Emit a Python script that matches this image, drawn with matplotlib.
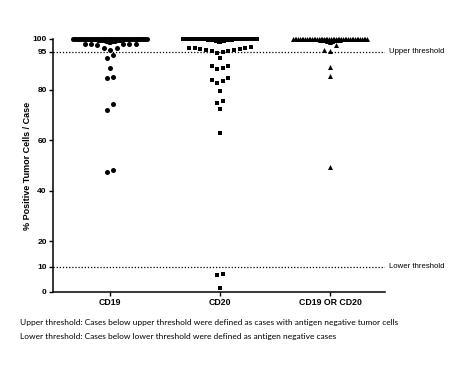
import numpy as np
import matplotlib
matplotlib.use("Agg")
import matplotlib.pyplot as plt

# ---- data ----
categories = ["CD19", "CD20", "CD19 OR CD20"]
# values in the 99-100 band
cd19_top = [100] * 40 + [99.8] * 8 + [99.6] * 6 + [99.4] * 4 + [99.2] * 3 + [99.0] * 2
cd20_top = [100] * 42 + [99.8] * 8 + [99.6] * 6 + [99.4] * 4 + [99.2] * 3 + [99.0] * 2
either_top = [100] * 44 + [99.8] * 8 + [99.6] * 5 + [99.4] * 3 + [99.2] * 2 + [99.0] * 1
# values below 99
cd19_values = [98.0, 98.0, 98.0, 98.0, 98.0, 97.5, 96.6, 96.6,
               95.6, 93.7, 92.6, 88.7, 84.8, 84.5, 74.2, 72.1, 48.1, 47.4]
cd20_values = [97.0, 96.6, 96.3, 96.3, 96.0, 95.9, 95.6, 95.5,
               95.2, 95.2, 95.0, 94.6, 92.4, 89.3, 89.2, 88.4, 88.1, 84.5, 83.8,
               83.4, 82.5, 79.3, 75.5, 74.6, 72.3, 62.7, 7.2, 6.8, 1.6]
either_values = [97.8, 95.5, 95.3, 89.0, 85.5, 49.5]
upper_threshold = 95
lower_threshold = 10
yticks = [0, 10, 20, 40, 60, 80, 95, 100]
markers = ["o", "s", "^"]

W, H = 475, 367
fig = plt.figure(figsize=(W / 100, H / 100), dpi=100)
ax_l, ax_r, ax_t, ax_b = 53, 385, 39, 292
ax = fig.add_axes([ax_l / W, 1 - ax_b / H, (ax_r - ax_l) / W, (ax_b - ax_t) / H])
xlim = (0.48, 3.5)
ylim = (0, 100)
ax.set_xlim(*xlim)
ax.set_ylim(*ylim)
px_per_x = (ax_r - ax_l) / (xlim[1] - xlim[0])


def center_out_slots(n):
    """slot indices from the center outward, alternating sides."""
    if n % 2 == 1:
        slots = [0.0]
        for k in range(1, n):
            slots.append(-float((k + 1) // 2) if k % 2 == 1 else float(k // 2))
    else:
        slots = []
        for k in range(n):
            m = k // 2 + 0.5
            slots.append(-m if k % 2 == 0 else m)
    return np.array(slots)


def row_layout(values, bin_h=2.6, step=6.0):
    """Prism-like layout: bin values into rows, lowest value at center."""
    vals = np.array(values, dtype=float)
    order = np.argsort(-vals)
    offs = np.zeros(len(vals))
    bins, cur, top = [], [], None
    for i in order:
        if top is None or vals[i] < top - bin_h:
            if cur:
                bins.append(cur)
            cur, top = [i], vals[i]
        else:
            cur.append(i)
    if cur:
        bins.append(cur)
    for b in bins:
        b = sorted(b, key=lambda i: vals[i])
        for i, s in zip(b, center_out_slots(len(b))):
            offs[i] = s * step
    return offs


tops = [cd19_top, cd20_top, either_top]
groups = [cd19_values, cd20_values, either_values]
mpx = 5.0
msize = mpx * 0.72  # pt
width_px = 74
for k, (tvals, vals, mk) in enumerate(zip(tops, groups, markers)):
    xc = k + 1
    tvals = np.array(tvals, dtype=float)
    full = tvals[tvals >= 100]
    part = np.sort(tvals[tvals < 100])
    # values at 100 spread over whole column width
    xs_full = xc + np.linspace(-width_px / 2, width_px / 2, len(full)) / px_per_x
    ax.plot(xs_full, full, linestyle="none", marker=mk, color="black",
            markersize=msize, markeredgewidth=0, clip_on=False)
    # values just below 100 packed at center, lowest in the middle
    poffs = center_out_slots(len(part)) * 1.1
    ax.plot(xc + poffs / px_per_x, part, linestyle="none", marker=mk,
            color="black", markersize=msize, markeredgewidth=0, clip_on=False)
    vals = np.array(vals, dtype=float)
    step = 6.4 if k == 0 else 5.6
    offs = row_layout(vals, step=step)
    ax.plot(xc + offs / px_per_x, vals, linestyle="none", marker=mk, color="black",
            markersize=msize, markeredgewidth=0, clip_on=False)

# thresholds
for thr, lab in [(upper_threshold, "Upper threshold"), (lower_threshold, "Lower threshold")]:
    ax.axhline(thr, color="black", linestyle=(0, (1, 1.5)), linewidth=0.9)
    ax.text(1.012, thr, lab, transform=ax.get_yaxis_transform(), va="center",
            ha="left", fontsize=5.6, family="Liberation Sans")

for s in ["top", "right"]:
    ax.spines[s].set_visible(False)
for s in ["left", "bottom"]:
    ax.spines[s].set_linewidth(1.1)
ax.set_yticks(yticks)
ax.set_yticklabels([str(t) for t in yticks], fontweight="bold", fontsize=6,
                   family="Liberation Sans")
ax.set_xticks([1, 2, 3])
ax.set_xticklabels(categories, fontweight="bold", fontsize=6.3,
                   family="Liberation Sans")
ax.tick_params(axis="both", length=3, width=1.0, pad=1.5)
ax.set_ylabel("% Positive Tumor Cells / Case", fontweight="bold", fontsize=6.5,
              family="Liberation Sans", labelpad=0.5)

fig.text(20 / W, 1 - 322 / H, "Upper threshold: Cases below upper threshold were defined as cases with antigen negative tumor cells",
         fontsize=6.0, family="Lato", va="center", ha="left")
fig.text(20 / W, 1 - 336 / H, "Lower threshold: Cases below lower threshold were defined as antigen negative cases",
         fontsize=6.0, family="Lato", va="center", ha="left")

fig.savefig("out.png", dpi=100)
